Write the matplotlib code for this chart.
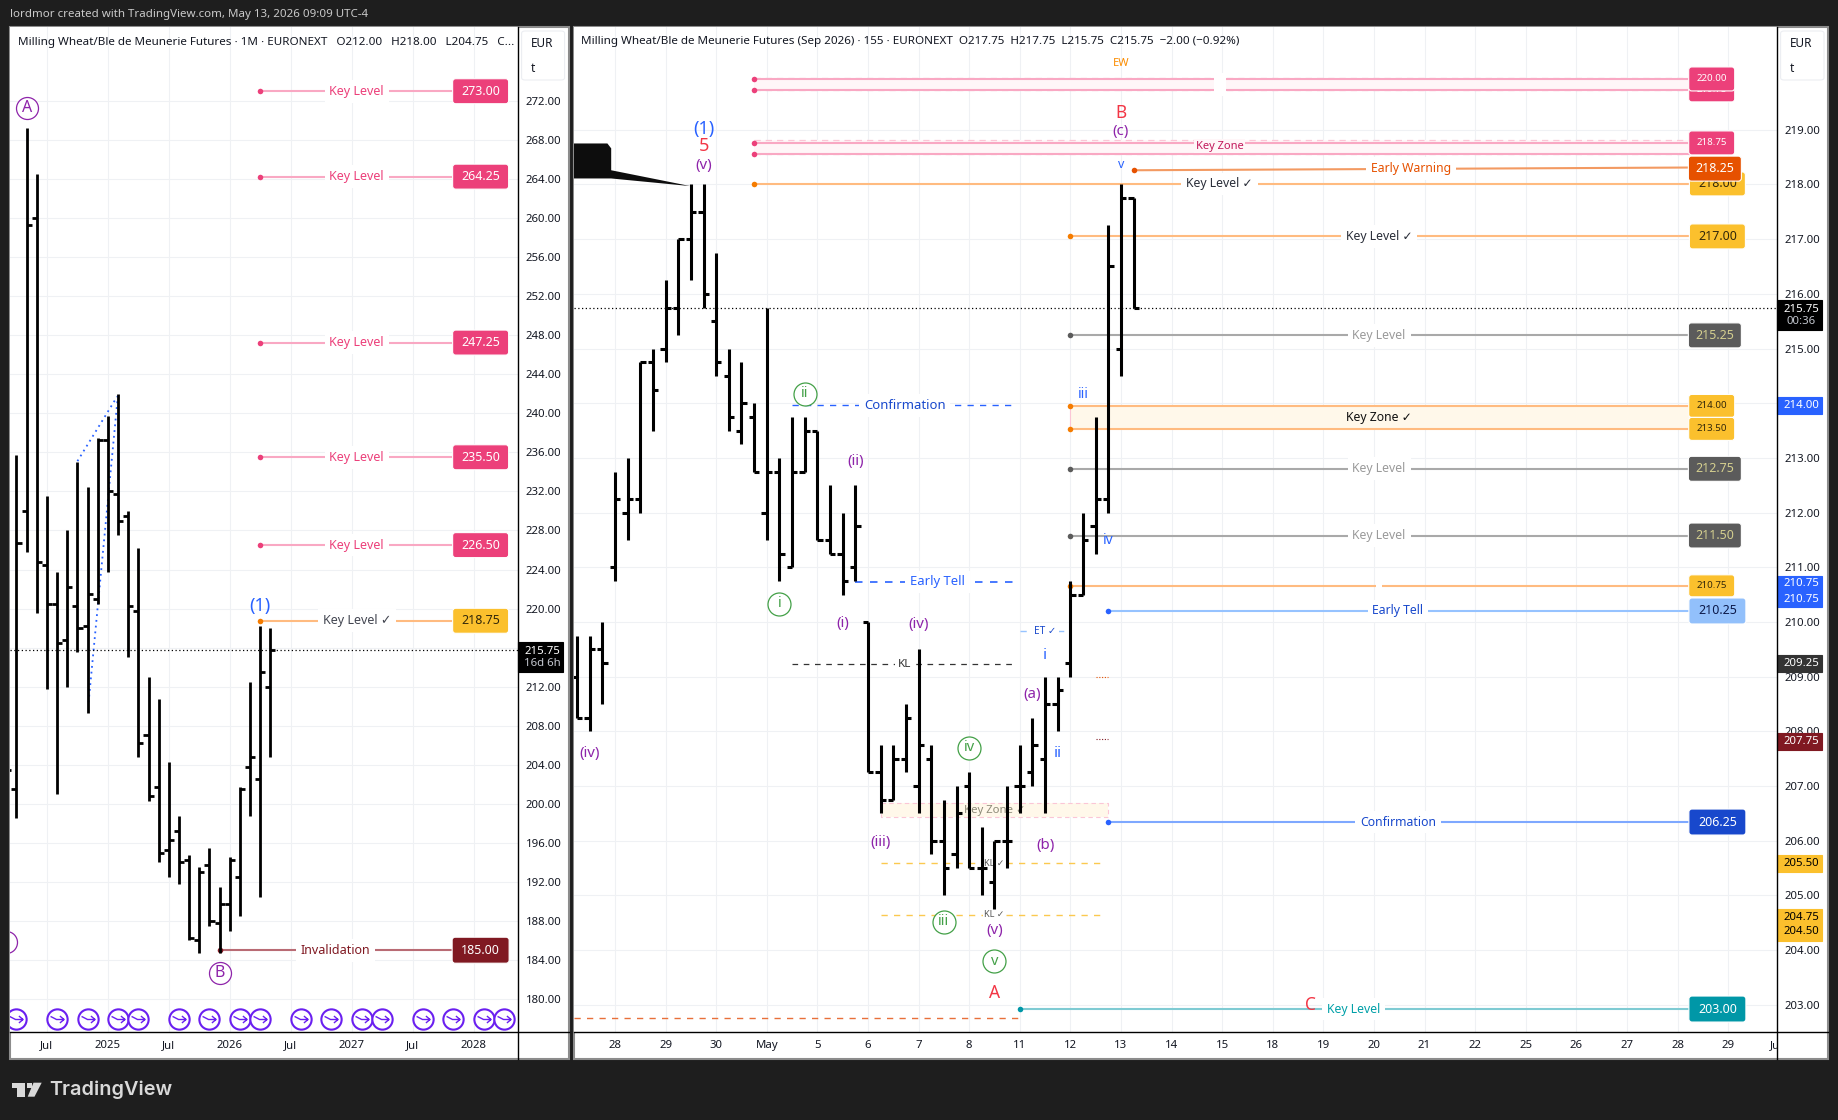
import matplotlib
matplotlib.use("Agg")
import matplotlib.pyplot as plt
from matplotlib.lines import Line2D
from matplotlib.patches import Rectangle, FancyBboxPatch, Polygon
from matplotlib.path import Path
from matplotlib.transforms import IdentityTransform, Bbox, TransformedBbox

W, H = 1838, 1120
plt.rcParams['font.family'] = ['Noto Sans', 'DejaVu Sans']

BG = "#1e1e1e"
GRID = "#eff1f4"
INK = "#131722"
PINK = "#ec407a"
PINK_L = "#f9a8c3"
ORANGE_L = "#ffbb80"
ORANGE = "#f57c00"
YELLOW = "#fbc02d"
PURPLE = "#8e24aa"
BLUE = "#2962ff"
NAVY = "#1848cc"
RED = "#f23645"
GREEN = "#43a047"
GREY = "#9a9a9a"
DGREY = "#5b5b5b"
DRED = "#801922"
TEAL = "#0097a7"
FIRE = "#e65100"

# monthly bars, x = months since Jul 2024
m_x = list(range(-4, 23))
m_high = [210, 235.75, 269.25, 264.5, 231.5, 223.75, 228, 235, 232.5, 237.5, 239.75, 242, 230, 226.25,
          213, 210.75, 204.25, 198.75, 194.75, 193.5, 195.5, 191.5, 194.5, 201.75, 212.5, 218.25, 218]
m_low = [200, 198.5, 225.75, 219.5, 211.75, 201, 212, 215.5, 209.25, 220.5, 223.75, 227.5, 215, 204.75,
         200.25, 194, 192.5, 191.75, 186, 184.75, 187.5, 184.75, 187, 188.5, 198.75, 190.5, 204.75]
m_open = [205, 201.5, 230, 260, 224.5, 220.5, 216.75, 220.25, 218.25, 221, 237.25, 231.75, 229.5, 219.75,
          207, 201.75, 195.25, 197.25, 194.25, 186, 193.75, 187.75, 189.75, 192.5, 203.75, 202.5, 212]
m_close = [203.5, 226.75, 259.25, 224.75, 220.5, 216.5, 222.25, 218, 221.5, 237.25, 232, 229, 220.25, 206.25,
           200.75, 195, 196.25, 194, 186.25, 193, 188, 189.75, 194.25, 201.5, 204.75, 213.5, 215.75]

# 155 minute bars, x = bar number from the "28" tick
s_x = list(range(-3, 42))
s_high = [209.75, 209.75, 210, 212.75, 213, 214.75, 215, 216.25, 217, 218, 218, 216.75, 215, 214.75, 214, 215.75,
          213, 213.75, 213.75, 213.5, 212.5, 212, 212.5, 210, 207.75, 207.75, 208.5, 209.5, 207.75, 206.75, 207,
          207.25, 206.25, 206, 207, 207.75, 208.25, 209, 209, 210.75, 212, 213.75, 217.25, 218, 217.75]
s_low = [208.25, 208, 208.5, 210.75, 211.5, 212, 213.5, 214.75, 215.25, 216.25, 215.75, 214.5, 213.5, 213.25, 212.75,
         211.5, 210.75, 211, 212.75, 211.5, 211.25, 210.5, 210.75, 207.25, 206.5, 206.75, 207.25, 206.5, 205.75, 205,
         205.5, 205.5, 205, 204.75, 205.5, 206.5, 207, 206.5, 208, 209, 210.5, 211.25, 212, 214.5, 215.75]
s_open = [209, 208.25, 209.5, 211, 212, 212.25, 214.75, 215, 215.75, 217, 217.5, 215.5, 214.5, 213.5, 213.75, 212,
          212.75, 211, 212.75, 213.5, 211.5, 211.25, 211, 210, 207.25, 206.75, 207.5, 207, 207.5, 206, 205.75, 207,
          205.5, 205.25, 206, 207, 207.25, 207.5, 208.5, 209.25, 210.5, 211.75, 212.25, 215, 217.75]
s_close = [208.25, 209.5, 209.25, 212.25, 212.25, 214.75, 214.25, 215.75, 217, 217.5, 216, 214.75, 213.75, 214, 212.75,
           212.75, 211.25, 212.75, 213.5, 211.5, 211.25, 210.75, 211.75, 207.25, 206.75, 207.5, 208.25, 207.75, 206,
           205.5, 206.5, 205.5, 205.5, 206, 206, 207, 207.75, 208.5, 208.75, 210.5, 211.5, 212.25, 216.5, 217.75, 215.75]

m_ticks = [0, 6, 12, 18, 24, 30, 36, 42]
m_tick_labels = ["Jul", "2025", "Jul", "2026", "Jul", "2027", "Jul", "2028"]
m_prices = list(range(180, 276, 4))
s_ticks = list(range(0, 92, 4))
s_tick_labels = ["28", "29", "30", "May", "5", "6", "7", "8", "11", "12", "13", "14", "15", "18", "19", "20",
                 "21", "22", "25", "26", "27", "28", "29"]
s_prices = list(range(203, 220))
event_months = [-3, 1, 4, 7, 9, 13, 16, 19, 21, 25, 28, 31, 33, 37, 40, 43, 45]

# left panel levels
m_pink_levels = [273.0, 264.25, 247.25, 235.5, 226.5]

fig = plt.figure(figsize=(W / 100, H / 100), dpi=100, facecolor=BG)


def px_axes(x0, x1, y0, y1):
    return fig.add_axes([x0 / W, 1 - y1 / H, (x1 - x0) / W, (y1 - y0) / H])


def ftext(x, y, s, **kw):
    kw.setdefault("va", "center")
    return fig.text(x / W, 1 - y / H, s, **kw)


def panel(x0, x1, y0, y1, axis_x, plot_bottom):
    fig.add_artist(Rectangle((x0 / W, 1 - y1 / H), (x1 - x0) / W, (y1 - y0) / H, transform=fig.transFigure,
                             facecolor="white", edgecolor="#8c8c8c", lw=1.5, zorder=-5))
    fig.add_artist(Line2D([x0 / W, x1 / W], [1 - plot_bottom / H] * 2, color="black", lw=1, zorder=6))
    fig.add_artist(Line2D([axis_x / W] * 2, [1 - y0 / H, 1 - y1 / H], color="black", lw=1, zorder=6))
    fig.add_artist(FancyBboxPatch(((axis_x + 4) / W, 1 - 80 / H), (x1 - axis_x - 8) / W, 49 / H,
                                  boxstyle="round,pad=0,rounding_size=0.002", transform=fig.transFigure,
                                  facecolor="white", edgecolor="#eceef2", lw=0.8, zorder=6))
    ftext(axis_x + 13, 43.5, "EUR", fontsize=8.5, color=INK, zorder=7)
    ftext(axis_x + 13, 69, "t", fontsize=8.5, color=INK, zorder=7)


def setup(ax, ticks, labels, prices, xlim, ylim):
    ax.set_xlim(*xlim)
    ax.set_ylim(*ylim)
    ax.set_xticks(ticks)
    ax.set_xticklabels(labels)
    ax.set_yticks(prices)
    ax.set_yticklabels([f"{p:.2f}" for p in prices])
    ax.yaxis.tick_right()
    ax.tick_params(length=0, labelsize=8.2, labelcolor=INK)
    ax.tick_params(axis="y", pad=6)
    ax.tick_params(axis="x", pad=6)
    ax.grid(True, color=GRID, lw=0.8)
    ax.set_axisbelow(True)
    for s in ax.spines.values():
        s.set_visible(False)


def bars(ax, x, o, h, l, c, tick, lw):
    ax.vlines(x, l, h, color="black", lw=lw, capstyle="butt", zorder=4)
    ax.hlines(o, [i - tick for i in x], x, color="black", lw=lw, capstyle="butt", zorder=4)
    ax.hlines(c, x, [i + tick for i in x], color="black", lw=lw, capstyle="butt", zorder=4)


def box(ax, xc, y, w, h, face, s, color, fs, r=3, edge="white", x_is_px=False, **kw):
    # xc in data (or px from left of figure when x_is_px), size in pixels
    p = ax.transData.transform((0 if x_is_px else xc, y))
    cx = xc if x_is_px else p[0]
    ax.add_patch(FancyBboxPatch((cx - w / 2 + r, p[1] - h / 2 + r), w - 2 * r, h - 2 * r,
                                boxstyle=f"round,pad={r},rounding_size={r}" if r else "square,pad=0",
                                transform=IdentityTransform(), facecolor=face, edgecolor=edge, lw=0.8,
                                clip_on=False, zorder=kw.get("zorder", 7)))
    if s:
        ax.text(cx, p[1], s, transform=IdentityTransform(), color=color, fontsize=fs, ha="center", va="center",
                clip_on=False, zorder=kw.get("zorder", 7) + 0.1, fontweight=kw.get("weight", "normal"))


def level(ax, x0, x1, y0, y1, line, dot, lw=1.5):
    ax.plot([x0, x1], [y0, y1], color=line, lw=lw, solid_capstyle="butt", zorder=2)
    ax.plot([x0], [y0], marker="o", ms=4, color=dot, mew=0, zorder=3)


def label(ax, x, y, s, color, fs=9, z=5, **kw):
    ax.text(x, y, s, color=color, fontsize=fs, ha="center", va="center", zorder=z,
            bbox=dict(facecolor=kw.pop("bg", "white"), edgecolor="none", pad=kw.pop("pad", 3.5)), **kw)


def wave(ax, x, y, s, color, fs=10.5):
    ax.text(x, y, s, color=color, fontsize=fs, ha="center", va="center", zorder=6)


def ringed(ax, x, y, s, color, size, fs=10):
    ax.plot([x], [y], marker="o", ms=size * 0.72, mfc="white", mec=color, mew=0.9, zorder=5)
    ax.text(x, y, s, color=color, fontsize=fs, ha="center", va="center", zorder=6, clip_on=True)


# header and footer
ftext(10, 15, "lordmor created with TradingView.com, May 13, 2026 09:09 UTC-4", fontsize=8.3, color="#c9c9c9")
fig.add_artist(Polygon([(12.3 / W, 1 - 1082.7 / H), (25 / W, 1 - 1082.7 / H), (25 / W, 1 - 1096.7 / H),
                        (17 / W, 1 - 1096.7 / H), (17 / W, 1 - 1087.5 / H), (12.3 / W, 1 - 1087.5 / H)],
                       transform=fig.transFigure, facecolor="#d9d9d9", edgecolor="none"))
fig.add_artist(Polygon([(33.5 / W, 1 - 1082.7 / H), (41.7 / W, 1 - 1082.7 / H), (34.5 / W, 1 - 1096.7 / H),
                        (27.7 / W, 1 - 1096.7 / H)], transform=fig.transFigure, facecolor="#d9d9d9", edgecolor="none"))
fig.add_artist(Rectangle((26.8 / W, 1 - 1087.6 / H), 5 / W, 5 / H, transform=fig.transFigure,
                         facecolor="#d9d9d9", edgecolor="none"))
ftext(49, 1089.5, "TradingView", fontsize=14.3, color="#d9d9d9", fontweight="semibold",
      fontfamily=["Inter", "DejaVu Sans"])

# ---- left panel ----
panel(10.4, 568.6, 27, 1059, 517.6, 1032)
ax1 = px_axes(10.4, 517.6, 27, 1032)
setup(ax1, m_ticks, m_tick_labels, m_prices, (-3.6, 46.34), (176.62, 279.58))
bars(ax1, m_x, m_open, m_high, m_low, m_close, 0.5, 2.0)
ax1.axhline(215.75, color="black", lw=0.9, ls=(0, (1, 2)), zorder=3)
ax1.plot([3, 6.9], [235.1, 241.7], color=BLUE, lw=1.3, ls=(0, (1, 2.2)), zorder=2)
ax1.plot([4.1, 7], [210.4, 242], color=BLUE, lw=1.3, ls=(0, (1, 2.2)), zorder=2)

for lv in m_pink_levels:
    level(ax1, 21, 40, lv, lv, PINK_L, PINK)
    label(ax1, 30.5, lv, "Key Level", PINK)
    box(ax1, 42.7, lv, 56, 25, PINK, f"{lv:.2f}", "white", 9, weight="bold")
level(ax1, 21, 40, 218.75, 218.75, ORANGE_L, ORANGE)
label(ax1, 30.5, 218.75, "Key Level ✓", "#434651")
box(ax1, 42.7, 218.75, 56, 25, YELLOW, "218.75", "#33280a", 9, weight="bold")
level(ax1, 17, 40, 185, 185, "#b96b74", DRED)
label(ax1, 28.4, 185, "Invalidation", DRED)
box(ax1, 42.7, 185, 57, 26, DRED, "185.00", "white", 9, weight="bold")

ringed(ax1, -2, 271.3, "A", PURPLE, 22, 11.5)
ringed(ax1, 17, 182.7, "B", PURPLE, 22, 11.5)
ringed(ax1, -4, 185.8, "", PURPLE, 22)
wave(ax1, 21, 220.3, "(1)", BLUE, 13)

ring = Path([(-0.72, 0.32), (-0.1, 0.0), (0.68, 0.0), (0.25, 0.36), (0.68, 0.0), (0.25, -0.36)],
            [Path.MOVETO, Path.LINETO, Path.LINETO, Path.MOVETO, Path.LINETO, Path.LINETO])
yb = 1 - (1019 - 27) / (1032 - 27)
etrans = ax1.get_xaxis_transform()
ax1.plot(event_months, [yb] * len(event_months), transform=etrans, ls="none", marker="o", ms=14.6,
         mfc="white", mec="#6a1ff0", mew=1.5, zorder=6)
ax1.plot(event_months, [yb] * len(event_months), transform=etrans, ls="none", marker=ring, ms=10,
         mfc="none", mec="#6a1ff0", mew=1.0, zorder=6)

ftext(18, 42, "Milling Wheat/Ble de Meunerie Futures · 1M · EURONEXT   O212.00   H218.00   L204.75   C...",
      fontsize=8.4, color=INK, zorder=8)
box(ax1, 540.3, 215.03, 45.4, 30, "black", "", "white", 8, r=0, edge="black", x_is_px=True)
ftext(542.4, 651, "215.75", fontsize=8.2, color="white", ha="center", fontweight="bold", zorder=9)
ftext(542.4, 664, "16d 6h", fontsize=8.2, color="#c4c7cf", ha="center", zorder=9)

# ---- right panel ----
panel(574, 1828, 27, 1059, 1776.6, 1032)
ax2 = px_axes(574, 1776.6, 27, 1032)
setup(ax2, s_ticks, s_tick_labels, s_prices, (-3.24, 91.83), (202.5, 220.88))
bars(ax2, s_x, s_open, s_high, s_low, s_close, 0.42, 2.2)
ax2.axhline(215.74, color="black", lw=0.9, ls=(0, (1, 2)), zorder=3)

jun = ax2.text(92, -8.5 / 1005, "Jun", transform=ax2.get_xaxis_transform(), fontsize=8.2, color=INK,
               ha="center", va="top", clip_on=True)
jun.set_clip_box(TransformedBbox(Bbox([[0, 0], [1776.6 / W, 1]]), fig.transFigure))

# callout behind the (1) high
ax2.add_patch(Polygon([(-4, 218.75), (-0.6, 218.75), (-0.3, 218.66), (-0.3, 218.26), (5.97, 217.97),
                       (-0.3, 218.11), (-4, 218.11)], facecolor="#0d0d0d", edgecolor="none", zorder=5))

# zones
ZONE_P = "#fff6f8"
ZONE_Y = "#fff8ea"
for top, bot, x0 in [(219.95, 219.73, 11), (218.82, 218.56, 11)]:
    ax2.fill_between([x0, 85], bot, top, color=ZONE_P, lw=0, zorder=1)
    ax2.plot([x0, 85], [top, top], color="#fbc6d6", lw=0.9, ls=(0, (5, 4)), zorder=2)
    ax2.plot([x0, 85], [bot, bot], color="#fbc6d6", lw=0.9, ls=(0, (5, 4)), zorder=2)
ax2.fill_between([36, 85], 213.53, 213.95, color=ZONE_Y, lw=0, zorder=1)
ax2.fill_between([21, 39], 206.43, 206.69, color=ZONE_Y, lw=0, zorder=1)
ax2.plot([21, 39, 39, 21, 21], [206.69, 206.69, 206.43, 206.43, 206.69], color="#fbc6d6", lw=0.8, ls=(0, (4, 3)), zorder=2)
ax2.plot([36, 36], [213.53, 213.95], color="#fbc6d6", lw=0.8, zorder=2)

# solid levels
for y, x0, line, dot in [(219.93, 11, PINK_L, PINK), (219.73, 11, PINK_L, PINK), (218.76, 11, PINK_L, PINK),
                         (218.56, 11, PINK_L, PINK), (218.01, 11, ORANGE_L, ORANGE), (217.05, 36, ORANGE_L, ORANGE),
                         (215.24, 36, "#a9a9a9", DGREY), (213.95, 36, ORANGE_L, ORANGE), (213.53, 36, ORANGE_L, ORANGE),
                         (212.8, 36, "#a9a9a9", DGREY), (211.58, 36, "#a9a9a9", DGREY), (210.66, 36, ORANGE_L, ORANGE),
                         (210.2, 39, "#96c3ff", BLUE), (206.34, 39, "#7ea8ff", BLUE), (202.92, 32, "#7fcbd3", TEAL)]:
    level(ax2, x0, 85, y, y, line, dot)
level(ax2, 41, 85, 218.26, 218.31, "#f39a62", FIRE)

# level text
ax2.text(47.8, 219.83, " ", bbox=dict(facecolor="white", edgecolor="none", pad=3), zorder=3, ha="center", va="center", fontsize=11)
ax2.text(60.4, 210.66, " ", bbox=dict(facecolor="white", edgecolor="none", pad=1.5), zorder=3, ha="center", va="center", fontsize=6)
label(ax2, 47.8, 218.7, "Key Zone", "#c2185b", 8, bg=ZONE_P, pad=1)
label(ax2, 62.9, 218.29, "Early Warning", FIRE, 8.8)
label(ax2, 47.8, 218.01, "Key Level ✓", "#2a2e39", 8.8)
label(ax2, 60.4, 217.05, "Key Level ✓", "#2a2e39", 8.8)
label(ax2, 60.4, 215.24, "Key Level", GREY, 8.8)
label(ax2, 60.4, 213.74, "Key Zone ✓", "#111111", 8.8, bg=ZONE_Y, pad=1)
label(ax2, 60.4, 212.8, "Key Level", GREY, 8.8)
label(ax2, 60.4, 211.58, "Key Level", GREY, 8.8)
label(ax2, 61.9, 210.2, "Early Tell", NAVY, 8.8)
label(ax2, 61.9, 206.34, "Confirmation", NAVY, 8.8)
label(ax2, 58.4, 202.92, "Key Level", "#00a0a8", 8.8)

# badges, back to front
box(ax2, 86.7, 219.73, 46, 24, PINK, "219.75", "white", 7)
box(ax2, 86.7, 219.93, 46, 24, PINK, "220.00", "white", 7, zorder=7.2)
box(ax2, 87.15, 218.01, 56, 24, YELLOW, "218.00", "#33280a", 9, zorder=7.2)
box(ax2, 86.7, 218.76, 46, 24, PINK, "218.75", "white", 7, zorder=7.4)
box(ax2, 86.95, 218.29, 53, 25, FIRE, "218.25", "white", 9, zorder=7.6)
box(ax2, 87.15, 217.05, 56, 25, YELLOW, "217.00", "#33280a", 9)
box(ax2, 86.95, 215.24, 53, 25, DGREY, "215.25", "#d4cf8f", 9)
box(ax2, 86.7, 213.95, 46, 23, YELLOW, "214.00", "#33280a", 7)
box(ax2, 86.7, 213.53, 46, 23, YELLOW, "213.50", "#33280a", 7, zorder=7.2)
box(ax2, 86.95, 212.8, 53, 25, DGREY, "212.75", "#d4cf8f", 9)
box(ax2, 86.95, 211.58, 53, 25, DGREY, "211.50", "#d4cf8f", 9)
box(ax2, 86.7, 210.66, 46, 22, YELLOW, "210.75", "#33280a", 7)
box(ax2, 87.15, 210.2, 57, 26, "#92c0fb", "210.25", "#0c1a4a", 9, zorder=7.2)
box(ax2, 87.15, 206.34, 57, 26, NAVY, "206.25", "white", 9)
box(ax2, 87.15, 202.92, 57, 26, TEAL, "203.00", "white", 9)

# dashed levels
for x0, x1, y, c, lw in [(14, 31.8, 213.96, BLUE, 1), (19, 31.5, 210.73, BLUE, 1.2), (14, 31.8, 209.23, "#333333", 0.9),
                         (32, 35.9, 209.83, "#96c3ff", 1), (21, 38.7, 205.59, "#fbc94f", 1), (21, 38.7, 204.64, "#fbc94f", 1),
                         (-3.24, 32, 202.75, "#e8703a", 1)]:
    ax2.plot([x0, x1], [y, y], color=c, lw=lw, ls=(0, (4.5, 4.5)), zorder=2)
ax2.plot([38, 39], [209, 209], color=FIRE, lw=0.8, ls=(0, (1, 1.5)), zorder=2)
ax2.plot([38, 39], [207.85, 207.85], color=DRED, lw=0.8, ls=(0, (1, 1.5)), zorder=2)
label(ax2, 22.9, 213.96, "Confirmation", NAVY, 9.4)
label(ax2, 25.5, 210.73, "Early Tell", BLUE, 9.4)
label(ax2, 22.9, 209.23, "KL", "#333333", 8.4, pad=2)
label(ax2, 34, 209.83, "ET ✓", NAVY, 7.2, pad=2)
label(ax2, 30, 206.56, "Key Zone ✓", "#8d8a78", 8.2, z=1.5, bg=ZONE_Y, pad=0.5)
label(ax2, 30, 205.59, "KL ✓", "#555555", 6.6, z=3.5, pad=1.2)
label(ax2, 30, 204.64, "KL ✓", "#555555", 6.6, z=3.5, pad=1.2)
ax2.text(40, 220.22, "EW", color="#fb8c00", fontsize=8, ha="center", va="center")

# wave counts
for x, y, s in [(7, 218.35, "(v)"), (40, 218.97, "(c)"), (19, 212.93, "(ii)"), (-2, 207.6, "(iv)"), (18, 209.97, "(i)"),
                (24, 209.96, "(iv)"), (33, 208.67, "(a)"), (21, 205.96, "(iii)"), (34, 205.91, "(b)"), (30, 204.35, "(v)")]:
    wave(ax2, x, y, s, PURPLE, 10.8)
for x, y, s, fs in [(40, 218.37, "v", 9), (37, 214.15, "iii", 10), (39, 211.48, "iv", 10), (34, 209.39, "i", 11), (35, 207.6, "ii", 11)]:
    wave(ax2, x, y, s, BLUE, fs)
for x, y, s in [(15, 214.17, "ii"), (13, 210.33, "i"), (28, 207.7, "iv"), (26, 204.52, "iii"), (30, 203.79, "v")]:
    ringed(ax2, x, y, s, GREEN, 23, 10.5)
wave(ax2, 7, 219.02, "(1)", BLUE, 13)
wave(ax2, 7, 218.71, "5", RED, 13)
wave(ax2, 40, 219.31, "B", RED, 12.5)
wave(ax2, 30, 203.21, "A", RED, 12.5)
wave(ax2, 55, 203.0, "C", RED, 12.5)

ftext(581, 41.5, "Milling Wheat/Ble de Meunerie Futures (Sep 2026) · 155 · EURONEXT  O217.75  H217.75  L215.75  C215.75  −2.00 (−0.92%)",
      fontsize=8.4, color=INK, zorder=8)

# price scale tags
cx = 1799.3
box(ax2, cx, 215.62, 45.4, 30, "black", "", "white", 8, r=0, edge="black", x_is_px=True)
ftext(1801, 309, "215.75", fontsize=8.2, color="white", ha="center", fontweight="bold", zorder=9)
ftext(1801, 322, "00:36", fontsize=8.2, color="#c4c7cf", ha="center", zorder=9)
for y, h, face, s, c in [(213.96, 17, BLUE, "214.00", "white"), (209.24, 17, "#333333", "209.25", "white"),
                         (207.82, 17, DRED, "207.75", "white"), (205.58, 17, YELLOW, "205.50", "black")]:
    box(ax2, cx, y, 45.4, h, face, "", c, 8, r=0, edge=face, x_is_px=True)
    ftext(1801, 1005 + (203 - y) * 54.69, s, fontsize=8.2, color=c, ha="center", zorder=9)
box(ax2, cx, 210.56, 45.4, 31, BLUE, "", "white", 8, r=0, edge=BLUE, x_is_px=True)
ftext(1801, 584, "210.75", fontsize=8.2, color="white", ha="center", zorder=9)
ftext(1801, 599, "210.75", fontsize=8.2, color="white", ha="center", zorder=9)
box(ax2, cx, 204.46, 45.4, 32, YELLOW, "", "black", 8, r=0, edge=YELLOW, x_is_px=True)
ftext(1801, 917, "204.75", fontsize=8.2, color="black", ha="center", zorder=9)
ftext(1801, 932, "204.50", fontsize=8.2, color="black", ha="center", zorder=9)

fig.savefig("out.png", dpi=100, facecolor=BG)
